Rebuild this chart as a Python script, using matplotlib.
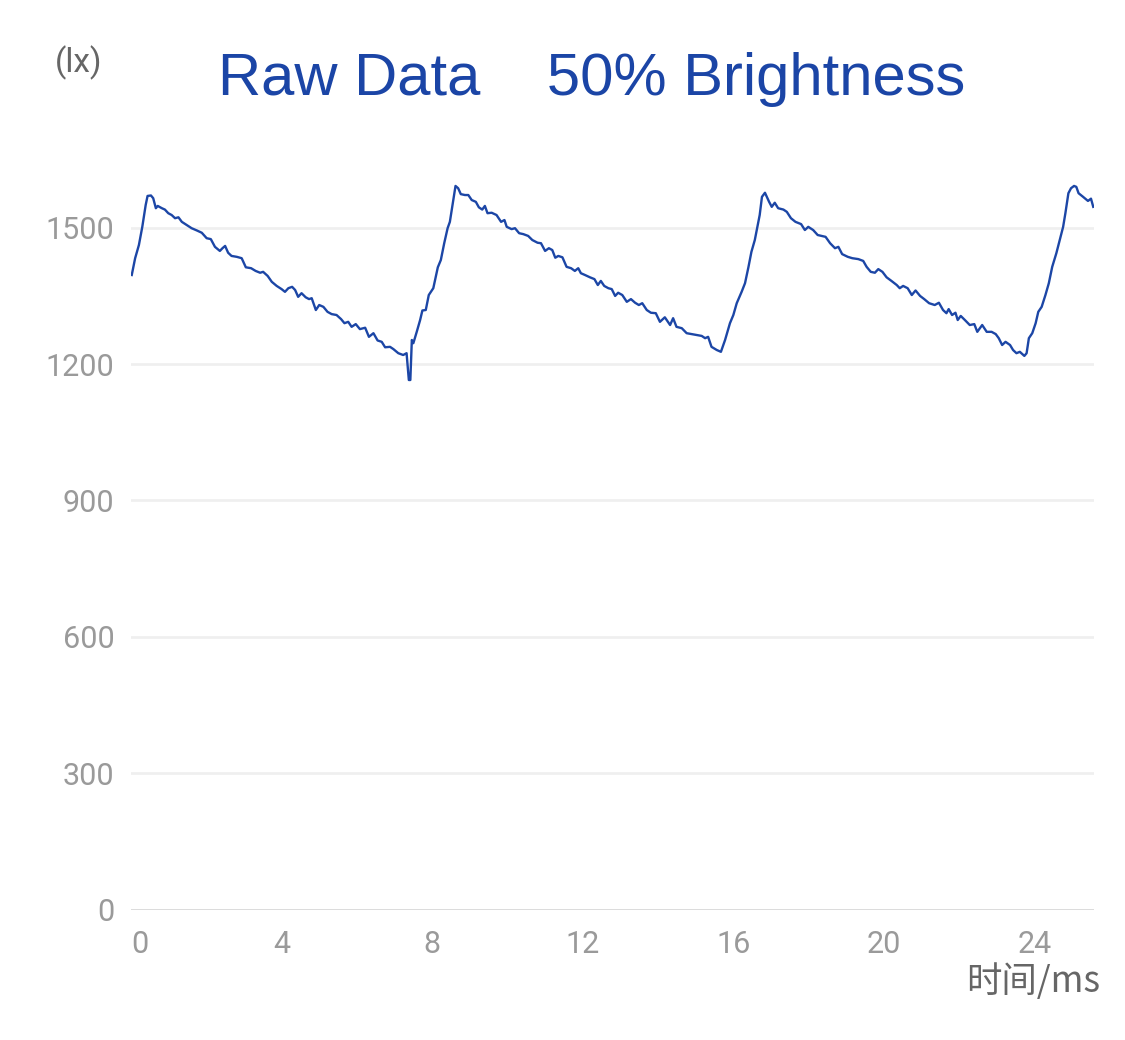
import matplotlib
matplotlib.use("Agg")
import matplotlib.pyplot as plt

# ---- data (time in ms, illuminance in lx) ----
time_ms = [
    0.02, 0.11, 0.21, 0.30, 0.39, 0.44, 0.53, 0.59, 0.66, 0.71, 0.82, 0.90, 0.99, 1.08, 1.17, 1.26, 1.35, 1.48,
    1.61, 1.75, 1.88, 2.01, 2.12, 2.23, 2.36, 2.43, 2.50, 2.58, 2.67, 2.81, 2.94, 3.05, 3.19, 3.31, 3.43, 3.51,
    3.63, 3.74, 3.87, 4.00, 4.09,
    4.18, 4.28, 4.36, 4.44, 4.53, 4.64, 4.73, 4.80, 4.91, 5.00, 5.11, 5.22, 5.33, 5.46, 5.58, 5.67, 5.77, 5.86,
    5.97, 6.08, 6.22, 6.32, 6.44, 6.55, 6.66, 6.75, 6.88, 6.97, 7.10, 7.23, 7.32, 7.35, 7.38, 7.42, 7.46, 7.50,
    7.59, 7.68, 7.74, 7.83, 7.91, 8.03, 8.15, 8.23, 8.32,
    8.41, 8.47, 8.56, 8.62, 8.69, 8.76, 8.87, 8.96, 9.05, 9.16, 9.24, 9.33, 9.40, 9.47, 9.58, 9.71, 9.83, 9.92,
    9.98, 10.11, 10.20, 10.31, 10.42, 10.55, 10.66, 10.80, 10.89, 11.00, 11.10, 11.19, 11.27, 11.35, 11.46,
    11.57, 11.69, 11.79, 11.88, 11.95, 12.06, 12.19, 12.31, 12.40, 12.48, 12.57,
    12.68, 12.77, 12.86, 12.94, 13.05, 13.17, 13.28, 13.39, 13.49, 13.58, 13.70, 13.81, 13.94, 14.05, 14.18,
    14.32, 14.40, 14.49, 14.63, 14.76, 14.89, 15.03, 15.16, 15.25, 15.33, 15.42, 15.56, 15.67, 15.78, 15.91,
    16.00, 16.09, 16.22, 16.31, 16.40, 16.48, 16.57, 16.64, 16.70, 16.76, 16.84,
    16.95, 17.02, 17.10, 17.19, 17.33, 17.42, 17.53, 17.65, 17.80, 17.90, 17.99, 18.12, 18.24, 18.35, 18.45,
    18.57, 18.70, 18.79, 18.89, 19.04, 19.16, 19.32, 19.45, 19.54, 19.65, 19.76, 19.85, 19.96, 20.07, 20.20,
    20.34, 20.42, 20.51, 20.63, 20.74, 20.84, 20.96, 21.07, 21.20,
    21.35, 21.46, 21.57, 21.66, 21.72, 21.81, 21.90, 21.96, 22.04, 22.15, 22.28, 22.40, 22.48, 22.61, 22.73,
    22.86, 22.97, 23.05, 23.14, 23.23, 23.35, 23.43, 23.52, 23.61, 23.73, 23.79, 23.85, 23.94, 24.03, 24.10,
    24.19, 24.29, 24.38, 24.47, 24.58, 24.67, 24.76, 24.82, 24.90, 24.97, 25.05, 25.11, 25.17, 25.29, 25.42,
    25.50, 25.56,
]
lux = [
    1396, 1433, 1462, 1502, 1550, 1570, 1571, 1565, 1543, 1548, 1543, 1540, 1532, 1528, 1521, 1523, 1513, 1506,
    1499, 1494, 1489, 1477, 1475, 1458, 1449, 1455, 1460, 1445, 1438, 1436, 1433, 1413, 1411, 1405, 1401, 1403,
    1394, 1381, 1372, 1365, 1359,
    1367, 1370, 1363, 1348, 1356, 1347, 1343, 1345, 1319, 1330, 1326, 1315, 1310, 1308, 1299, 1290, 1293, 1282,
    1288, 1277, 1280, 1260, 1268, 1252, 1249, 1237, 1238, 1233, 1224, 1220, 1224, 1194, 1165, 1165, 1253, 1246,
    1271, 1297, 1318, 1319, 1352, 1367, 1413, 1429, 1466,
    1499, 1513, 1561, 1592, 1587, 1574, 1572, 1572, 1561, 1557, 1545, 1540, 1548, 1532, 1533, 1528, 1513, 1517,
    1502, 1497, 1499, 1488, 1486, 1482, 1473, 1467, 1466, 1449, 1455, 1451, 1434, 1438, 1435,
    1414, 1411, 1405, 1411, 1400, 1396, 1391, 1387, 1374, 1383, 1372,
    1367, 1365, 1350, 1357, 1352, 1337, 1343, 1335, 1330, 1334, 1319, 1313, 1312, 1293, 1303,
    1286, 1301, 1282, 1279, 1268, 1266, 1264, 1262, 1257, 1260, 1238, 1231, 1227, 1253, 1290,
    1308, 1334, 1359, 1378, 1413, 1447, 1473, 1502, 1528, 1568, 1577,
    1557, 1546, 1555, 1543, 1540, 1535, 1521, 1513, 1508, 1495, 1502, 1495, 1484, 1482, 1480,
    1466, 1455, 1458, 1442, 1436, 1433, 1431, 1427, 1414, 1403, 1401, 1409, 1403, 1391, 1383,
    1374, 1367, 1372, 1367, 1352, 1362, 1350, 1343, 1334,
    1330, 1335, 1319, 1312, 1321, 1308, 1313, 1297, 1306, 1297, 1286, 1288, 1271, 1286, 1271,
    1271, 1266, 1257, 1242, 1249, 1242, 1231, 1224, 1227, 1218, 1224, 1257, 1268, 1290, 1315,
    1326, 1352, 1378, 1414, 1444, 1473, 1502, 1532, 1576, 1587, 1592, 1590, 1576, 1568, 1559,
    1564, 1546,
]
x_ticks = [0, 4, 8, 12, 16, 20, 24]
y_ticks = [0, 300, 600, 900, 1200, 1500]
title_text = "Raw Data    50% Brightness"
y_unit = "(lx)"
x_label = "时间/ms"

# ---- figure ----
W, H = 1125, 1040
fig = plt.figure(figsize=(W / 100, H / 100), dpi=100)

x0_px, x1_px = 131, 1094
y0_px = 909.5
px_per_lx = 0.4545
ytop = 1800
ytop_px = y0_px - ytop * px_per_lx
ax = fig.add_axes([x0_px / W, (H - y0_px) / H, (x1_px - x0_px) / W, (y0_px - ytop_px) / H])
ax.set_xlim(0, 25.58)
ax.set_ylim(0, ytop)

for s in ax.spines.values():
    s.set_visible(False)

ax.set_yticks(y_ticks)
ax.set_xticks(x_ticks)
ax.grid(axis="y", color="#efefef", lw=1.9)
ax.set_axisbelow(True)
ax.axhline(0, color="#dadada", lw=2.0, zorder=1)

ax.tick_params(axis="both", length=0, labelsize=22, labelcolor="#9a9a9a")
ax.tick_params(axis="y", pad=12)
ax.tick_params(axis="x", pad=15)
for lab in ax.get_xticklabels() + ax.get_yticklabels():
    lab.set_family(["Roboto", "DejaVu Sans"])
ax.get_xticklabels()[0].set_horizontalalignment("left")

ax.plot(time_ms, lux, color="#1c46a6", lw=1.7, zorder=3, solid_joinstyle="round")

fig.text(218 / W, (H - 95) / H, title_text, ha="left", va="baseline",
         fontsize=43, color="#1b45a6", family=["Liberation Sans", "DejaVu Sans"])
fig.text(55 / W, (H - 63) / H, y_unit, ha="left", va="center",
         fontsize=24, color="#666666", family=["Roboto", "DejaVu Sans"])
fig.text(1100 / W, (H - 982) / H, x_label, ha="right", va="center",
         fontsize=25.5, color="#666666", family=["Noto Sans CJK SC", "DejaVu Sans"])

fig.savefig("out.png", dpi=100, facecolor="white")
